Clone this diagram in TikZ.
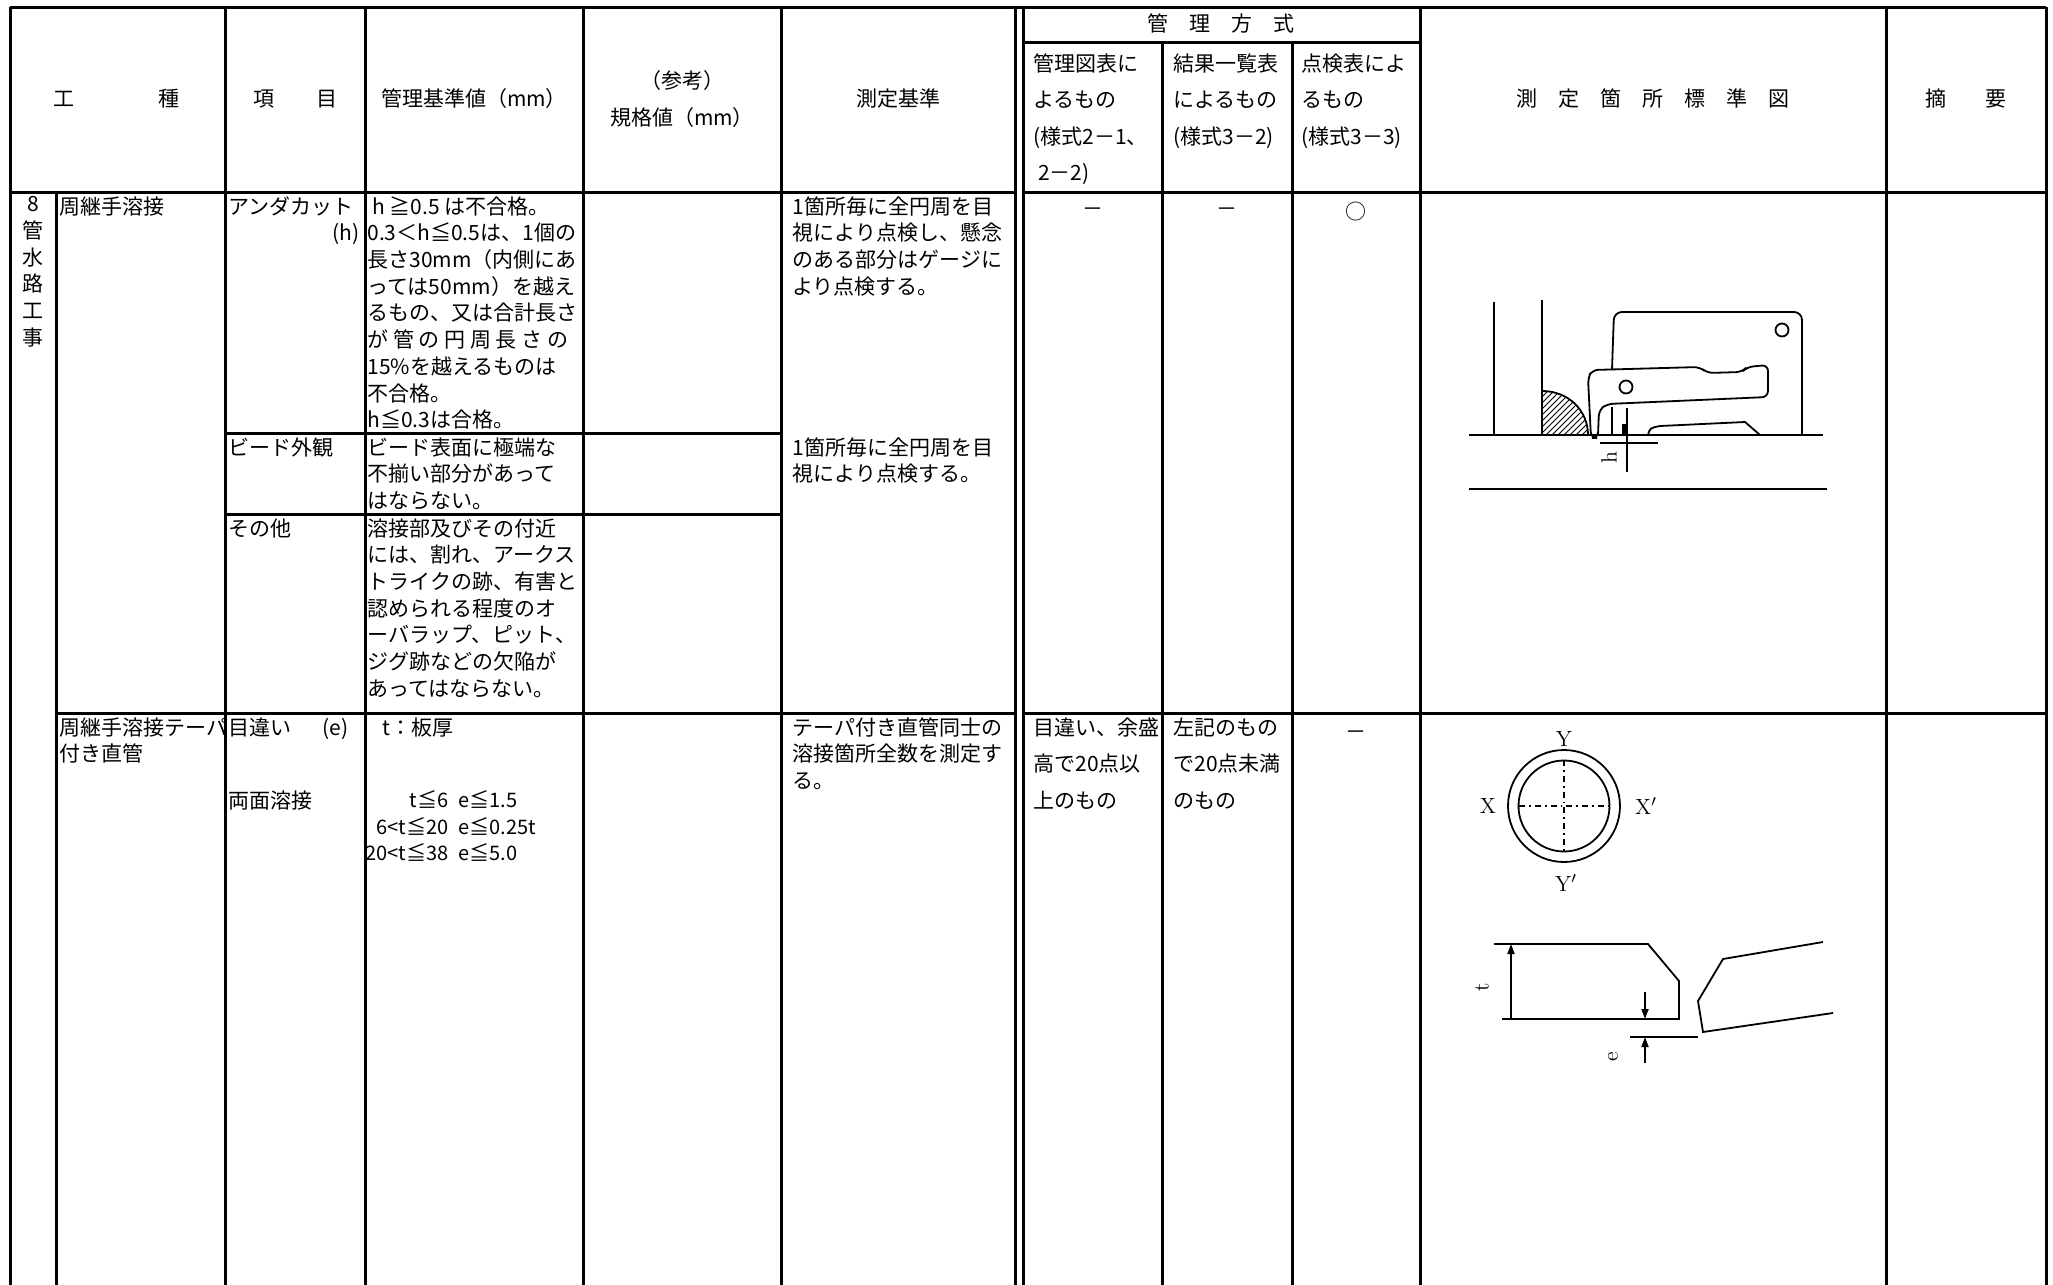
\documentclass[tikz,border=0pt]{standalone}
\usepackage{fontspec}
\newfontfamily\jp{Noto Sans CJK JP}
\usetikzlibrary{patterns,arrows.meta}

\begin{document}
\begin{tikzpicture}[x=0.5pt,y=0.5pt,yscale=-1,xscale=1,
  rule/.style={line width=1.5pt},
  fig/.style={line width=0.9pt},
  jt/.style={font=\jp\fontsize{10.5}{13.35}\selectfont,inner sep=0pt,align=left},
  ht/.style={font=\jp\fontsize{10.5}{18.3}\selectfont,inner sep=0pt,align=left},
  lbl/.style={font=\fontsize{11}{12}\selectfont,inner sep=0pt},
  dim/.style={fig,-{Triangle[length=5pt,width=3.5pt]}}]
\useasboundingbox (0,0) rectangle (2053,1285);

%Straight Lines: frame and header
\draw[rule] (10,7) -- (2046,7);
\draw[rule] (10,7) -- (10,1285);
\draw[rule] (2046,7) -- (2046,1285);
\draw[rule] (10,192) -- (1015,192);
\draw[rule] (1023,192) -- (2046,192);
\draw[rule] (1023,42) -- (1420,42);
%Straight Lines: columns
\foreach \x in {225,365,583,781,1015,1023,1420,1886}
  \draw[rule] (\x,7) -- (\x,1285);
\foreach \x in {1162,1292}
  \draw[rule] (\x,42) -- (\x,1285);
\draw[rule] (56,192) -- (56,1285);
%Straight Lines: rows
\draw[rule] (225,433) -- (781,433);
\draw[rule] (225,514) -- (781,514);
\draw[rule] (56,713) -- (1015,713);
\draw[rule] (1023,713) -- (2046,713);

% Text Node: header
\node (hkoshu) [jt] at (117,99) {工\hspace{4em}種};
\node (hkomoku) [jt] at (295,99) {項\hspace{2em}目};
\node (hkijun) [jt] at (474,99) {管理基準値（mm）};
\node (hsanko) [jt,align=center,font=\jp\fontsize{10.5}{18.5}\selectfont] at (682,99) {（参考）\\規格値（mm）};
\node (hsokutei) [jt] at (898,99) {測定基準};
\node (hhoshiki) [jt] at (1221,24) {管　理　方　式};
\node (hzuhyo) [ht,anchor=north west] at (1033,53) {管理図表に\\よるもの\\(様式2－1、\\\ 2－2)};
\node (hkekka) [ht,anchor=north west] at (1173,53) {結果一覧表\\によるもの\\(様式3－2)};
\node (htenken) [ht,anchor=north west] at (1301,53) {点検表によ\\るもの\\(様式3－3)};
\node (hzu) [jt] at (1653,99) {測　定　箇　所　標　準　図};
\node (htekiyo) [jt] at (1966,99) {摘\hspace{1.9em}要};

% Text Node: undercut
\node (kanro) [jt,align=center,anchor=north] at (33,196) {8\\管\\水\\路\\工\\事};
\node (shukei) [jt,anchor=north west] at (59,196) {周継手溶接};
\node (undercut) [jt,anchor=north west] at (228,196) {アンダカット};
\node (undercuth) [jt,anchor=north east] at (360,223) {(h)};
\node (ucval) [jt,anchor=north west] at (367,196) {\ h ≧0.5 は不合格。\\0.3＜h≦0.5は、1個の\\長さ30mm（内側にあ\\っては50mm）を越え\\るもの、又は合計長さ\\が 管 の 円 周 長 さ の\\15\%を越えるものは\\不合格。\\h≦0.3は合格。};
\node (ucsoku) [jt,anchor=north west] at (792,196) {1箇所毎に全円周を目\\視により点検し、懸念\\のある部分はゲージに\\より点検する。};
\node (ucm1) [jt] at (1093,212) {－};
\node (ucm2) [jt] at (1227,212) {－};
\node (ucm3) [jt] at (1356,212) {○};

% Text Node: bead
\node (bead) [jt,anchor=north west] at (228,437) {ビード外観};
\node (beadval) [jt,anchor=north west] at (367,437) {ビード表面に極端な\\不揃い部分があって\\はならない。};
\node (beadsoku) [jt,anchor=north west] at (792,437) {1箇所毎に全円周を目\\視により点検する。};

% Text Node: others
\node (sonota) [jt,anchor=north west] at (228,518) {その他};
\node (sonotaval) [jt,anchor=north west] at (367,518) {溶接部及びその付近\\には、割れ、アークス\\トライクの跡、有害と\\認められる程度のオ\\ーバラップ、ピット、\\ジグ跡などの欠陥が\\あってはならない。};

% Text Node: tapered pipe
\node (taper) [jt,anchor=north west] at (59,717) {周継手溶接テーパ\\付き直管};
\node (mechigai) [jt,anchor=north west] at (228,717) {目違い\hspace{1.5em}(e)};
\node (ryomen) [jt,anchor=north west] at (228,790) {両面溶接};
\node (itaatsu) [jt,anchor=north west] at (382,717) {t：板厚};
\node (tval) [jt,align=right,anchor=north east,font=\jp\fontsize{10}{13.35}\selectfont] at (449,790) {t≦6\\6<t≦20\\20<t≦38};
\node (evalue) [jt,anchor=north west,font=\jp\fontsize{10}{13.35}\selectfont] at (458,790) {e≦1.5\\e≦0.25t\\e≦5.0};
\node (tpsoku) [jt,anchor=north west] at (792,717) {テーパ付き直管同士の\\溶接箇所全数を測定す\\る。};
\node (tpzuhyo) [ht,anchor=north west] at (1033,717) {目違い、余盛\\高で20点以\\上のもの};
\node (tpkekka) [ht,anchor=north west] at (1173,717) {左記のもの\\で20点未満\\のもの};
\node (tpm3) [jt] at (1356,735) {－};

%Shape: undercut gauge
\draw[fig] (1494,302) -- (1494,435);
\draw[fig] (1542,300) -- (1542,435);
\draw[fig] (1469,435) -- (1823,435);
\draw[fig] (1469,489) -- (1827,489);
\draw[fig,pattern=north east lines] (1542,435) -- (1542,391) .. controls (1568,391) and (1588,410) .. (1588,435) -- cycle;
\draw[fig,rounded corners=4] (1612,370) -- (1614,312) -- (1802,312) -- (1802,435);
\draw[fig] (1782,330) circle (6.5);
\draw[fig,rounded corners=3] (1598,435) -- (1599,410) -- (1607,404) -- (1768,397) -- (1768,365) -- (1747,367) -- (1742,372) -- (1707,373) -- (1700,367) -- (1592,370) -- (1588,378) -- (1591,438) -- (1598,438) -- (1598,435);
\draw[fig] (1626,387) circle (6.5);
\draw[fig] (1612,407) -- (1612,435);
\draw[fig] (1627,408) -- (1627,472);
\draw[line width=1.6pt] (1624,424) -- (1624,435);
\draw[fig] (1600,443) -- (1658,443);
\draw[fig] (1648,435) .. controls (1650,428) .. (1660,426) -- (1745,422) -- (1760,435);
\node (hmark) [lbl,rotate=90] at (1609,458) {h};

%Shape: pipe section
\draw[fig] (1564,806) circle (56);
\draw[fig] (1564,806) circle (45.5);
\draw[fig,dash dot] (1519,806) -- (1609,806);
\draw[fig,dash dot] (1564,760) -- (1564,851);
\node (ly) [lbl] at (1564,739) {Y};
\node (lx) [lbl] at (1488,806) {X};
\node (lxd) [lbl] at (1646,806) {X$'$};
\node (lyd) [lbl] at (1566,883) {Y$'$};

%Shape: offset of plates
\draw[fig] (1494,944) -- (1648,944) -- (1679,981) -- (1679,1019) -- (1502,1019);
\draw[fig] (1823,942) -- (1723,959) -- (1698,1001) -- (1703,1032) -- (1833,1013);
\draw[fig] (1630,1037) -- (1698,1037);
\coordinate (ttop) at (1511,944);
\coordinate (tbot) at (1511,1019);
\draw[dim,{Triangle[length=5pt,width=3.5pt]}-] (ttop) -- (tbot);
\coordinate (edn) at (1645,992);
\coordinate (eup) at (1645,1063);
\draw[dim] (edn) -- (1645,1019);
\draw[dim] (eup) -- (1645,1037);
\node (lt) [lbl,rotate=90] at (1482,987) {t};
\node (le) [lbl,rotate=90] at (1613,1057) {e};

\end{tikzpicture}
\end{document}
